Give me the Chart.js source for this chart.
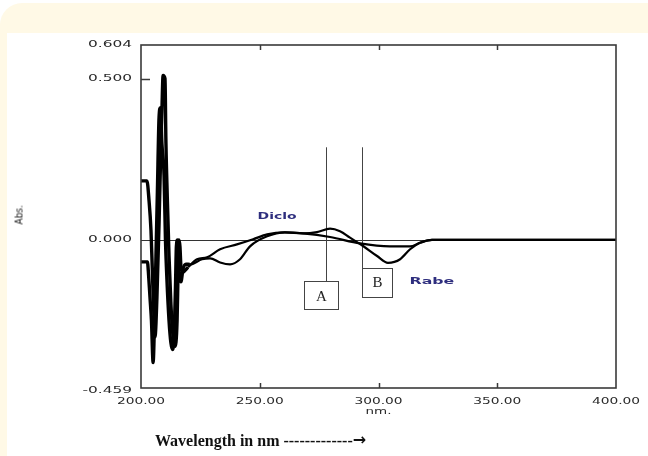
<!DOCTYPE html>
<html>
<head>
<meta charset="utf-8">
<script src="https://cdn.jsdelivr.net/npm/chart.js@4/dist/chart.umd.min.js"></script>
<style>
  html, body { margin: 0; padding: 0; background: #fff; }
  #wrap { position: relative; width: 648px; height: 456px; overflow: hidden; }
  #cream { position: absolute; left: 0; top: 3px; width: 700px; height: 500px; background: #fff9e6; border-top-left-radius: 22px; }
  #card { position: absolute; left: 7px; top: 33px; width: 700px; height: 500px; background: #fff; }
  #myChart { position: absolute; left: 0; top: 0; }
  #absLabel { position: absolute; left: 10px; top: 210px; transform: rotate(-90deg); transform-origin: center;
    font: 10px 'Liberation Sans Narrow', 'DejaVu Sans Condensed', sans-serif; color: #222; width: 18px; text-align: center; }
  #xTitle { position: absolute; left: 155px; top: 431px; font: bold 16px 'Liberation Serif', serif; color: #111; white-space: nowrap; }
  #xTitle span { font: bold 16px 'DejaVu Sans', sans-serif; position: relative; top: -1px; }
</style>
</head>
<body>
<div id="wrap">
  <div id="cream"></div>
  <div id="card"></div>
  <canvas id="myChart" width="648" height="456"></canvas>
  <div id="absLabel">Abs.</div>
  <div id="xTitle">Wavelength in nm -------------<span>&rarr;</span></div>
</div>
<script>
const xTicks = [200, 250, 300, 350, 400];
const xTickLabels = ['200.00', '250.00', '300.00', '350.00', '400.00'];
const yTicks = [0.604, 0.5, 0, -0.459];
const yTickLabels = ['0.604', '0.500', '0.000', '-0.459'];

const dicloNm = [200, 202.5, 203.4, 204.2, 204.8, 205.5, 205.9, 206.7, 207.6, 208.4, 208.8, 209.3, 210.1, 210.5, 211.2, 211.8, 212.6, 213.5, 214.3, 215.2, 215.6, 216.0, 216.4, 216.8, 217.7, 218.5, 219.8, 223.6, 227.8, 233.3, 240.4, 247.2, 253.1, 260.6, 268.2, 279.6, 292.2, 304.8, 313.3, 317.5, 322.5, 340, 360, 380, 400];
const dicloAbs = [0.183, 0.183, 0.12, 0.03, -0.10, -0.25, -0.30, -0.18, 0.05, 0.30, 0.40, 0.51, 0.50, 0.30, 0.10, -0.05, -0.20, -0.30, -0.33, -0.25, -0.10, 0.0, -0.02, -0.08, -0.10, -0.095, -0.085, -0.060, -0.054, -0.029, -0.014, 0.002, 0.017, 0.023, 0.020, 0.009, -0.011, -0.020, -0.020, -0.009, 0, 0, 0, 0, 0];

const rabeNm = [200, 202.7, 203.2, 203.8, 204.4, 205.1, 205.7, 206.3, 206.9, 207.6, 208.2, 208.8, 209.7, 210.3, 210.9, 211.8, 212.6, 213.3, 213.9, 214.5, 214.9, 215.4, 216.0, 216.8, 217.7, 218.9, 220.6, 225.7, 229.1, 233.3, 237.5, 241.7, 245.9, 253.1, 260.6, 268.2, 274.1, 279.6, 283.8, 288.0, 293.5, 299.4, 304.0, 309.1, 313.3, 317.5, 322.5, 340, 360, 380, 400];
const rabeAbs = [-0.068, -0.068, -0.11, -0.18, -0.25, -0.38, -0.25, -0.05, 0.15, 0.38, 0.41, 0.30, 0.20, 0.0, -0.12, -0.25, -0.32, -0.34, -0.30, -0.15, -0.02, 0.0, -0.10, -0.13, -0.09, -0.075, -0.076, -0.060, -0.057, -0.070, -0.076, -0.060, -0.020, 0.011, 0.023, 0.020, 0.024, 0.035, 0.027, 0.007, -0.019, -0.050, -0.071, -0.060, -0.029, -0.009, 0, 0, 0, 0, 0];

// wavelength markers and labels
const markerA = 277.7;
const markerB = 293.0;
const markerTop = 0.287;

const ctx = document.getElementById('myChart').getContext('2d');

// text stretched sideways like the original scan
function txt(c, s, x, y, font, color, align, sx) {
    c.save();
    c.font = font;
    c.fillStyle = color;
    c.textAlign = align;
    c.textBaseline = 'middle';
    c.translate(x, y);
    c.scale(sx, 1);
    c.fillText(s, 0, 0);
    c.restore();
}

const framePlugin = {
    id: 'frame',
    beforeDatasetsDraw(chart) {
        const c = chart.ctx;
        const a = chart.chartArea;
        const xs = chart.scales.x, ys = chart.scales.y;
        c.save();
        c.strokeStyle = '#333';
        c.lineWidth = 1;
        const y0 = Math.round(ys.getPixelForValue(0)) + 0.5;
        c.beginPath(); c.moveTo(a.left, y0); c.lineTo(a.right, y0); c.stroke();
        c.strokeStyle = '#444';
        const xa = Math.round(xs.getPixelForValue(markerA)) + 0.5;
        const xb = Math.round(xs.getPixelForValue(markerB)) + 0.5;
        const yt = ys.getPixelForValue(markerTop);
        c.beginPath(); c.moveTo(xa, yt); c.lineTo(xa, yt + 135); c.stroke();
        c.beginPath(); c.moveTo(xb, yt); c.lineTo(xb, yt + 122); c.stroke();
        c.restore();
    },
    afterDatasetsDraw(chart) {
        const c = chart.ctx;
        const a = chart.chartArea;
        const xs = chart.scales.x, ys = chart.scales.y;
        c.save();
        c.strokeStyle = '#3a3a3a';
        c.lineWidth = 1.6;
        c.strokeRect(a.left, a.top, a.right - a.left, a.bottom - a.top);
        c.lineWidth = 1.5;
        xTicks.slice(1, -1).forEach(v => {
            const px = Math.round(xs.getPixelForValue(v)) + 0.5;
            c.beginPath(); c.moveTo(px, a.top); c.lineTo(px, a.top + 5); c.stroke();
            c.beginPath(); c.moveTo(px, a.bottom); c.lineTo(px, a.bottom - 5); c.stroke();
        });
        const p5 = Math.round(ys.getPixelForValue(0.5)) + 0.5;
        c.beginPath(); c.moveTo(a.left, p5); c.lineTo(a.left + 9, p5); c.stroke();
        c.restore();

        const tf = '9.5px "DejaVu Sans", sans-serif';
        yTicks.forEach((v, i) => {
            const off = v === -0.459 ? 3 : 0;
            txt(c, yTickLabels[i], 132, ys.getPixelForValue(v) + off, tf, '#2a2a2a', 'right', 1.62);
        });
        xTicks.forEach((v, i) => {
            txt(c, xTickLabels[i], xs.getPixelForValue(v), 402, tf, '#2a2a2a', 'center', 1.45);
        });
        txt(c, 'nm.', xs.getPixelForValue(300), 412, '9px "DejaVu Sans", sans-serif', '#2a2a2a', 'center', 1.5);

        txt(c, 'Diclo', xs.getPixelForValue(257.3), ys.getPixelForValue(0.073), 'bold 9px "DejaVu Sans", sans-serif', '#2e2e7e', 'center', 1.55);
        txt(c, 'Rabe', xs.getPixelForValue(322.5), ys.getPixelForValue(-0.129), 'bold 9px "DejaVu Sans", sans-serif', '#2e2e7e', 'center', 1.75);

        c.save();
        c.fillStyle = '#fff';
        c.strokeStyle = '#444';
        c.lineWidth = 1;
        const ax = Math.round(xs.getPixelForValue(markerA)) - 21.5;
        const ay = Math.round(ys.getPixelForValue(markerTop)) + 134.5;
        c.fillRect(ax, ay, 34, 28); c.strokeRect(ax, ay, 34, 28);
        const bx = Math.round(xs.getPixelForValue(markerB)) + 0.5;
        const by = Math.round(ys.getPixelForValue(markerTop)) + 121.5;
        c.fillRect(bx, by, 30, 29); c.strokeRect(bx, by, 30, 29);
        c.restore();
        txt(c, 'A', ax + 17, ay + 16, '15px "Liberation Serif", serif', '#222', 'center', 1);
        txt(c, 'B', bx + 15, by + 15, '15px "Liberation Serif", serif', '#222', 'center', 1);
    }
};

// thicker strokes in the noisy low-wavelength part
const noisyWidth = c => (c.p0.parsed.x < 219 ? 3.4 : 2.2);

const chart = new Chart(ctx, {
    type: 'line',
    data: {
        datasets: [
            {
                label: 'Diclo',
                data: dicloNm.map((x, i) => ({ x: x, y: dicloAbs[i] })),
                borderColor: '#000',
                borderWidth: 2.2,
                segment: { borderWidth: noisyWidth },
                cubicInterpolationMode: 'monotone',
                pointRadius: 0
            },
            {
                label: 'Rabe',
                data: rabeNm.map((x, i) => ({ x: x, y: rabeAbs[i] })),
                borderColor: '#000',
                borderWidth: 2.2,
                segment: { borderWidth: noisyWidth },
                cubicInterpolationMode: 'monotone',
                pointRadius: 0
            }
        ]
    },
    options: {
        responsive: false,
        animation: false,
        layout: {
            padding: { left: 141, right: 32, top: 45, bottom: 68 }
        },
        scales: {
            x: { type: 'linear', min: 200, max: 400, display: false },
            y: { type: 'linear', min: -0.459, max: 0.604, display: false }
        },
        plugins: {
            legend: { display: false },
            tooltip: { enabled: false }
        }
    },
    plugins: [framePlugin]
});
</script>
</body>
</html>
